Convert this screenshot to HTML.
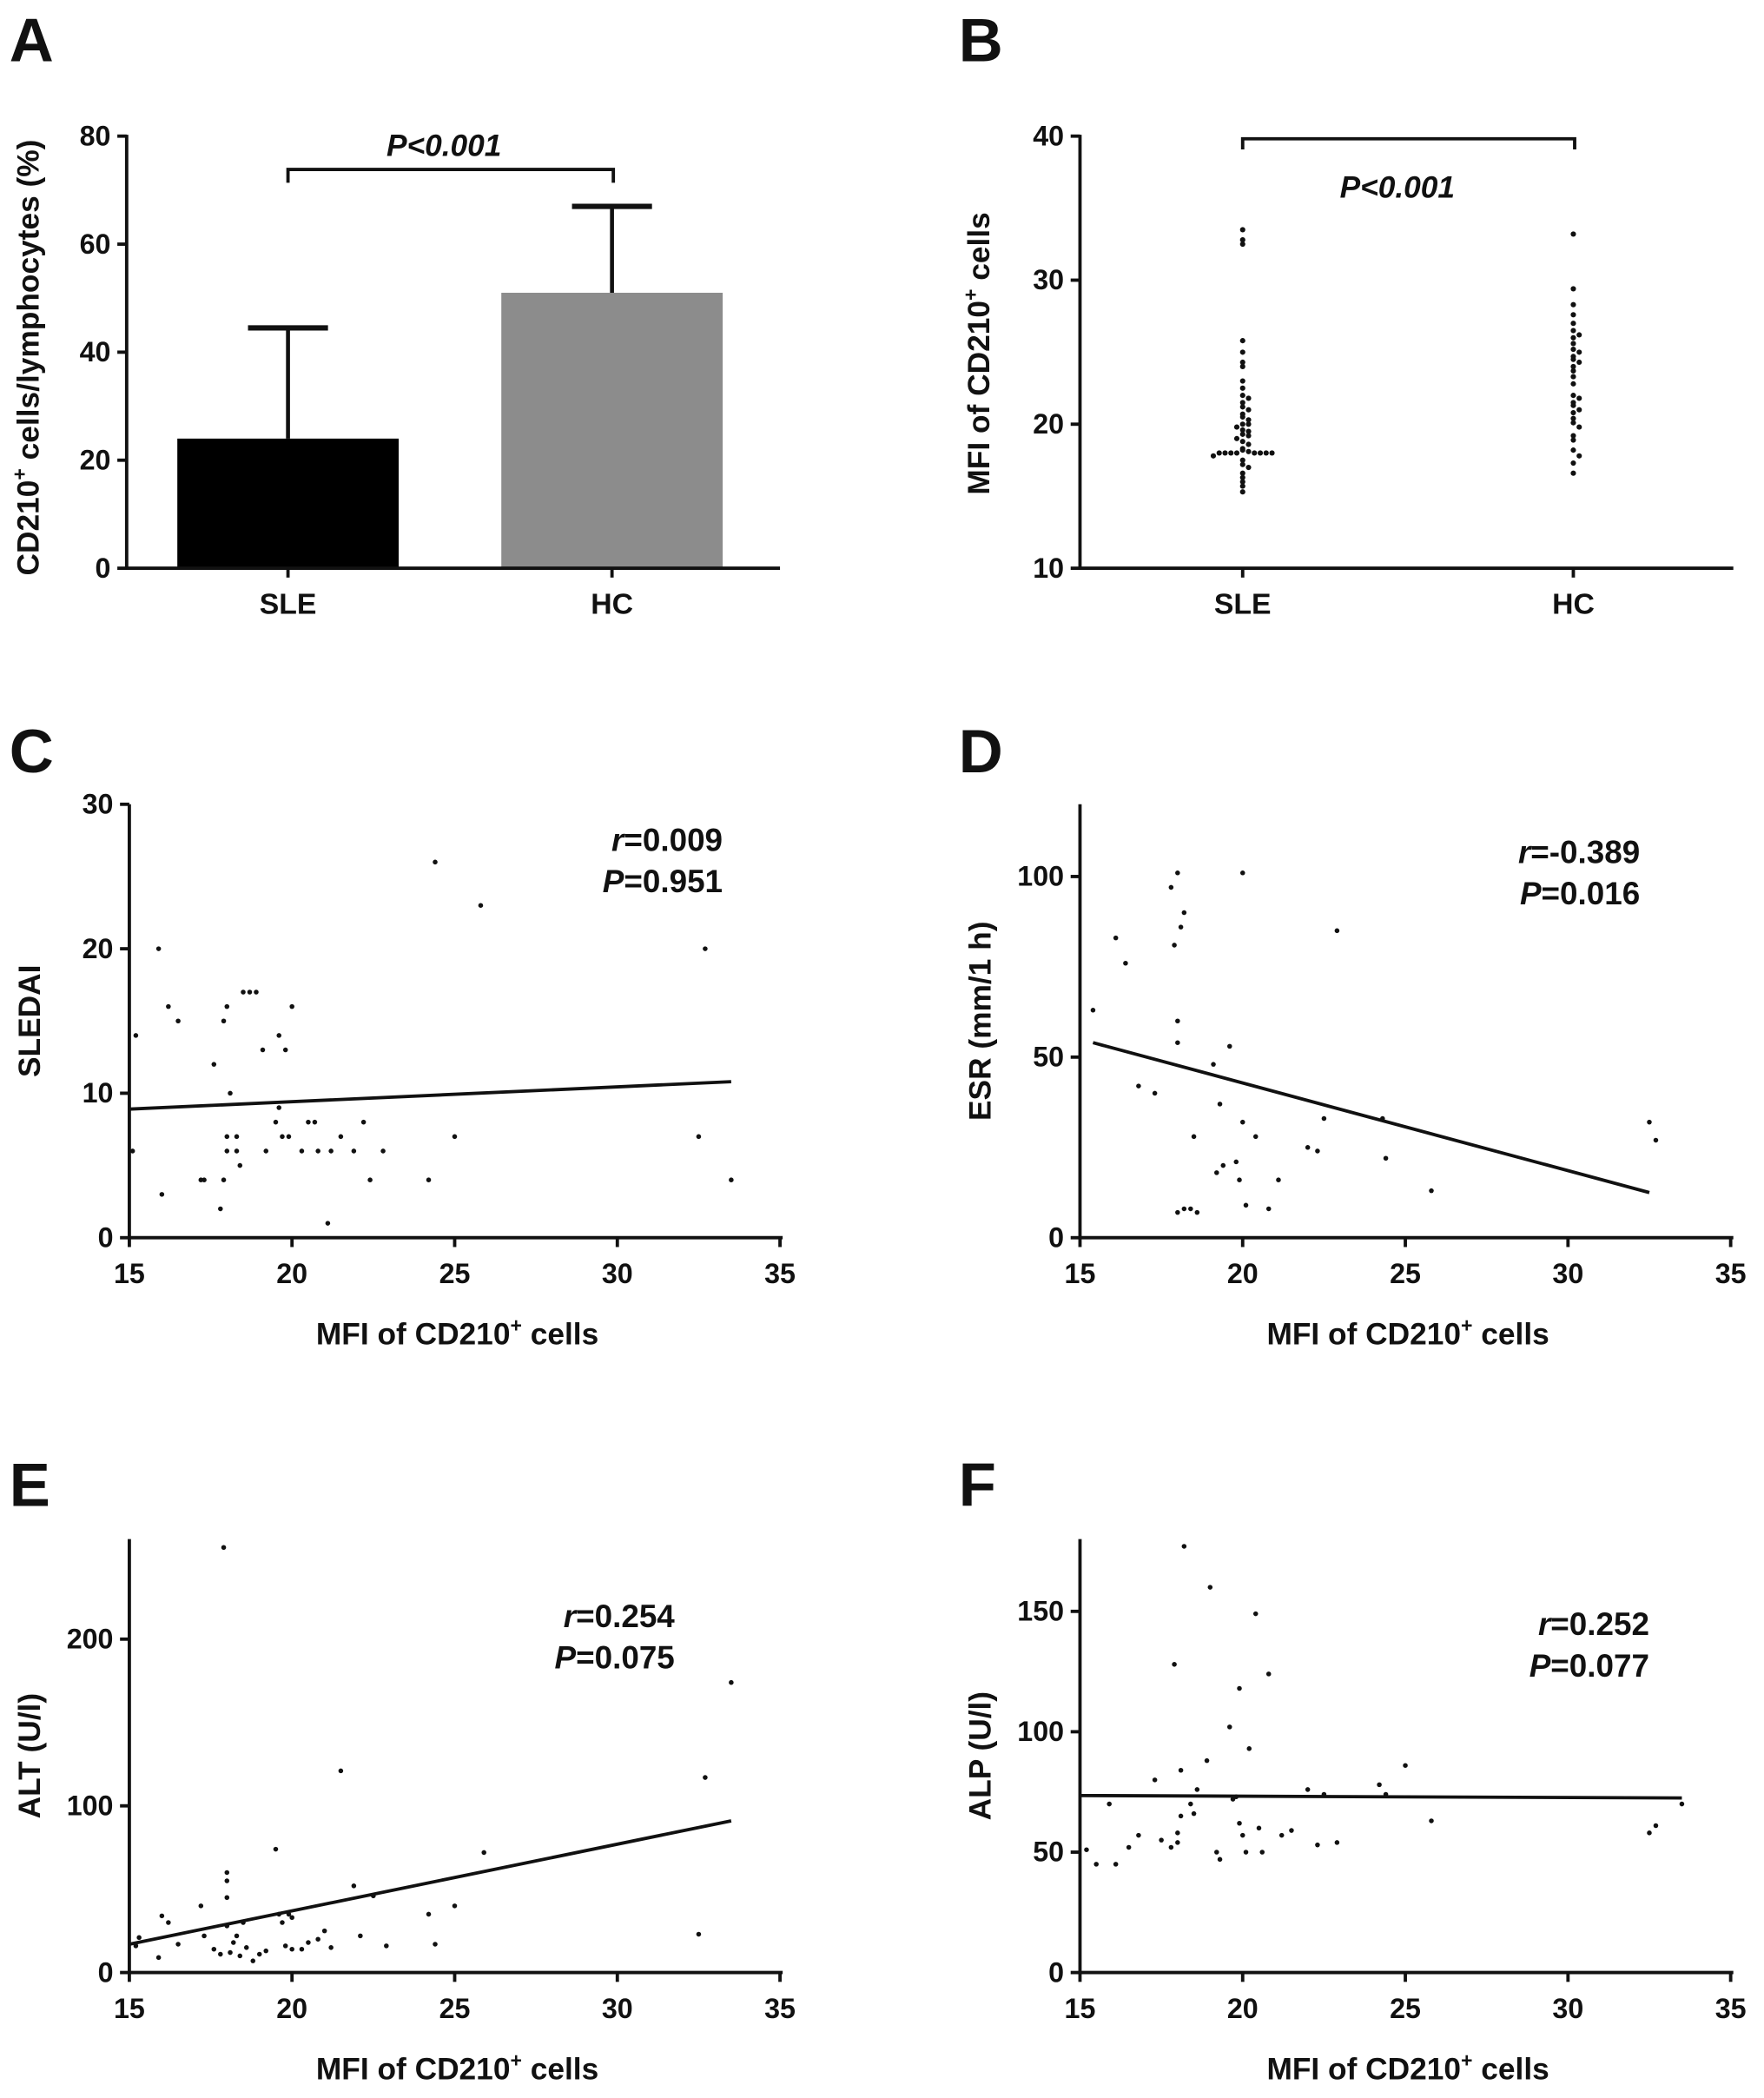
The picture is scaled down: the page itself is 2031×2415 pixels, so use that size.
<!DOCTYPE html>
<html><head><meta charset="utf-8"><style>
html,body{margin:0;padding:0;background:#fff}
svg{display:block}
text{font-family:"Liberation Sans",Arial,sans-serif;font-weight:bold;fill:#111}
</style></head><body>
<svg id="fig" width="2031" height="2415" viewBox="0 0 1323 1573" xmlns="http://www.w3.org/2000/svg"></svg>
<script>
// Panel A
const aCategories = ["SLE","HC"];
const aMeans = [24, 51];
const aErrTop = [44.5, 67];
const aTicks = [0,20,40,60,80];
// Panel B
const bSLE = [33.5,32.8,32.5,25.8,25,24.3,24,23,22.5,22,21.8,21.5,21.2,21,20.7,20.5,20.3,20,20,19.8,19.6,19.5,19.3,19.2,19,18.8,18.6,18.3,18.2,18.1,18,18,18,18,18,18,18,18,17.8,17.5,17.2,17,16.6,16.3,16,15.7,15.3];
const bHC = [33.2,29.4,28.3,27.6,27,26.5,26.2,26,25.6,25.2,25,24.7,24.5,24.3,24,23.7,23.3,22.8,22,21.8,21.5,21.3,21,20.8,20.4,20.1,19.8,19.2,18.9,18.2,17.8,17.3,16.6];
const bTicks = [10,20,30,40];
// Panel C
const cX = [15.2,15.1,15.9,16,16.2,16.5,17.2,17.3,17.6,17.8,17.9,17.9,18,18,18,18.1,18.3,18.3,18.4,18.5,18.7,18.9,19.1,19.2,19.5,19.6,19.6,19.7,19.8,19.9,20,20.3,20.5,20.7,20.8,21.1,21.2,21.5,21.9,22.2,22.4,22.8,24.2,24.4,25,25.8,32.5,32.7,33.5];
const cY = [14,6,20,3,16,15,4,4,12,2,15,4,16,7,6,10,7,6,5,17,17,17,13,6,8,14,9,7,13,7,16,6,8,8,6,1,6,7,6,8,4,6,4,26,7,23,7,20,4];
const cFit = [[15,8.9],[33.5,10.8]];
const cYTicks = [0,10,20,30];
// Panel D
const dX = [15.4,16.1,16.4,16.8,17.3,17.8,17.9,18,18,18,18.1,18.2,18,18.2,18.4,18.5,18.6,19.1,19.2,19.3,19.4,19.6,19.8,19.9,20,20,20.1,20.4,20.8,21.1,22,22.3,22.5,22.9,24.3,24.4,25.8,32.5,32.7];
const dY = [63,83,76,42,40,97,81,101,60,54,86,90,7,8,8,28,7,48,18,37,20,53,21,16,32,101,9,28,8,16,25,24,33,85,33,22,13,32,27];
const dFit = [[15.4,54],[32.5,12.5]];
const dYTicks = [0,50,100];
// Panel E
const eX = [15.2,15.3,15.9,16,16.2,16.5,17.2,17.3,17.6,17.8,17.9,18,18,18,18,18.1,18.2,18.3,18.4,18.5,18.6,18.8,19,19.2,19.5,19.6,19.7,19.8,19.9,20,20,20.3,20.5,20.8,21,21.2,21.5,21.9,22.1,22.5,22.9,24.2,24.4,25,25.9,32.5,32.7,33.5];
const eY = [16,21,9,34,30,17,40,22,14,11,255,55,60,45,28,12,18,22,10,30,15,7,11,13,74,35,30,16,35,33,14,14,18,20,25,15,121,52,22,46,16,35,17,40,72,23,117,174];
const eFit = [[15,17],[33.5,91]];
const eYTicks = [0,100,200];
// Panel F
const fX = [15.2,15.5,15.9,16.1,16.5,16.8,17.3,17.5,17.8,17.9,18,18,18.1,18.1,18.2,18.4,18.5,18.6,18.9,19,19.2,19.3,19.6,19.7,19.8,19.9,19.9,20,20.1,20.2,20.4,20.5,20.6,20.8,21.2,21.5,22,22.3,22.5,22.9,24.2,24.4,25,25.8,32.5,32.7,33.5];
const fY = [51,45,70,45,52,57,80,55,52,128,54,58,65,84,177,70,66,76,88,160,50,47,102,72,73,62,118,57,50,93,149,60,50,124,57,59,76,53,74,54,78,74,86,63,58,61,70];
const fFit = [[15,73.5],[33.5,72.5]];
const fYTicks = [0,50,100,150];
const xTicks = [15,20,25,30,35];

const NS="http://www.w3.org/2000/svg";
const svg=document.getElementById('fig');
function mk(tag,attrs,parent){const e=document.createElementNS(NS,tag);for(const k in attrs)e.setAttribute(k,attrs[k]);(parent||svg).appendChild(e);return e;}
function line(x1,y1,x2,y2,w,p){return mk('line',{x1,y1,x2,y2,stroke:'#111','stroke-width':w||2.5,'stroke-linecap':'butt'},p);}
function txt(s,x,y,size,anchor,p,extra){const t=mk('text',Object.assign({x,y,'font-size':size,'text-anchor':anchor||'middle'},extra||{}),p);t.textContent=s;return t;}
function sup(t,base,s,after){t.textContent='';const a=document.createElementNS(NS,'tspan');a.textContent=base;t.appendChild(a);const b=document.createElementNS(NS,'tspan');b.setAttribute('dy','-9');b.setAttribute('font-size','15');b.textContent=s;t.appendChild(b);const c=document.createElementNS(NS,'tspan');c.setAttribute('dy','9');c.textContent=after;t.appendChild(c);}
function panelLabel(s,x,y){const t=txt(s,x,y,46,'start');

}
function yTitle(g,x,y,base,s,after,name){const t=txt('',0,0,23,'middle',g,{transform:`translate(${x},${y}) rotate(-90)`});if(s)sup(t,base,s,after);else t.textContent=base;

}

// ---- Panel A ----
(function(){
const g=mk('g',{});


panelLabel('A',7,46);
const x0=95,y0=426,yTop=102,xEnd=585;
const ys=v=>y0-(v/80)*(y0-yTop);
const centers=[216,459],bw=166,colors=['#000','#8c8c8c'];
aCategories.forEach((c,i)=>{
 const cx=centers[i];
 line(cx,ys(aMeans[i]),cx,ys(aErrTop[i]),3,g);
 line(cx-30,ys(aErrTop[i]),cx+30,ys(aErrTop[i]),4,g);
 const r=mk('rect',{x:cx-bw/2,y:ys(aMeans[i]),width:bw,height:y0-ys(aMeans[i]),fill:colors[i]},g);
 
 
 line(cx,y0,cx,y0+7,2.5,g);
 const t=txt(c,cx,y0+34,22,'middle',g);
 
 
});
line(x0,yTop-1,x0,y0,2.5,g);line(x0-1,y0,xEnd,y0,2.5,g);
aTicks.forEach(v=>{line(x0-7,ys(v),x0,ys(v),2.5,g);const t=txt(String(v),x0-12,ys(v)+7,21,'end',g);

});
const br=mk('path',{d:`M216 137 V127 H460 V137`,fill:'none',stroke:'#111','stroke-width':2.5},g);


const p=txt('P<0.001',333,117,23,'middle',g,{'font-style':'italic'});


yTitle(g,29,268,'CD210','+',' cells/lymphocytes (%)','y-axis-title');
})();

// ---- Panel B ----
(function(){
const g=mk('g',{});


panelLabel('B',719,46);
const x0=810,y0=426,yTop=102,xEnd=1300;
const ys=v=>y0-((v-10)/30)*(y0-yTop);
const centers=[932,1180];
[bSLE,bHC].forEach((arr,i)=>{
 const bins={};
 arr.forEach(v=>{const k=Math.round(v/0.4);bins[k]=(bins[k]||0)+1;const n=bins[k]-1;
  const off=n===0?0:(n%2?1:-1)*Math.ceil(n/2)*4.4;
  const d=mk('circle',{cx:centers[i]+off,cy:ys(v),r:2,fill:'#111'},g);
  
  });
 line(centers[i],y0,centers[i],y0+7,2.5,g);
 const t=txt(aCategories[i],centers[i],y0+34,22,'middle',g);
 
 
});
line(x0,yTop-1,x0,y0,2.5,g);line(x0-1,y0,xEnd,y0,2.5,g);
bTicks.forEach(v=>{line(x0-7,ys(v),x0,ys(v),2.5,g);const t=txt(String(v),x0-12,ys(v)+7,21,'end',g);

});
const br=mk('path',{d:`M932 112 V104 H1181 V112`,fill:'none',stroke:'#111','stroke-width':2.5},g);


const p=txt('P<0.001',1048,148,23,'middle',g,{'font-style':'italic'});


yTitle(g,742,265,'MFI of CD210','+',' cells','y-axis-title');
})();

// ---- Scatter panels ----
function scatter(o){
 const g=mk('g',{});
 
 
 panelLabel(o.letter,o.lx,o.ly);
 const xs=v=>o.x0+(v-15)/20*488;
 const ys=v=>o.y0-(v/o.yMax)*(o.y0-o.yTop);
 o.xv.forEach((xv,i)=>{const d=mk('circle',{cx:xs(xv),cy:ys(o.yv[i]),r:1.8,fill:'#111'},g);
  
  });
 const fl=line(xs(o.fit[0][0]),ys(o.fit[0][1]),xs(o.fit[1][0]),ys(o.fit[1][1]),2.5,g);
 
 
 line(o.x0,o.yTop,o.x0,o.y0,2.5,g);line(o.x0-1,o.y0,o.x0+490,o.y0,2.5,g);
 o.yTicks.forEach(v=>{line(o.x0-7,ys(v),o.x0,ys(v),2.5,g);const t=txt(String(v),o.x0-12,ys(v)+7,21,'end',g);
  
  });
 xTicks.forEach(v=>{line(xs(v),o.y0,xs(v),o.y0+7,2.5,g);const t=txt(String(v),xs(v),o.y0+34,21,'middle',g);
  
  });
 const xt=txt('',o.x0+246,o.y0+80,23,'middle',g);sup(xt,'MFI of CD210','+',' cells');
 
 
 yTitle(g,o.x0-67,(o.y0+o.yTop)/2,o.ytitle,null,null,'y-axis-title');
 const r=mk('text',{x:o.sx,y:o.sy,'font-size':24,'text-anchor':'end'},g);
 r.innerHTML='<tspan font-style="italic">r</tspan>='+o.r;
 
 
 const p=mk('text',{x:o.sx,y:o.sy+31,'font-size':24,'text-anchor':'end'},g);
 p.innerHTML='<tspan font-style="italic">P</tspan>='+o.p;
 
 
}
scatter({name:'panel-c-sledai-scatter',letter:'C',lx:7,ly:579,x0:97,y0:928,yTop:603,yMax:30,yTicks:cYTicks,xv:cX,yv:cY,fit:cFit,ytitle:'SLEDAI',r:'0.009',p:'0.951',sx:542,sy:638});
scatter({name:'panel-d-esr-scatter',letter:'D',lx:719,ly:579,x0:810,y0:928,yTop:603,yMax:120,yTicks:dYTicks,xv:dX,yv:dY,fit:dFit,ytitle:'ESR (mm/1 h)',r:'-0.389',p:'0.016',sx:1230,sy:647});
scatter({name:'panel-e-alt-scatter',letter:'E',lx:7,ly:1129,x0:97,y0:1479,yTop:1154,yMax:260,yTicks:eYTicks,xv:eX,yv:eY,fit:eFit,ytitle:'ALT (U/l)',r:'0.254',p:'0.075',sx:506,sy:1220});
scatter({name:'panel-f-alp-scatter',letter:'F',lx:719,ly:1129,x0:810,y0:1479,yTop:1154,yMax:180,yTicks:fYTicks,xv:fX,yv:fY,fit:fFit,ytitle:'ALP (U/l)',r:'0.252',p:'0.077',sx:1237,sy:1226});
</script>
</body></html>
